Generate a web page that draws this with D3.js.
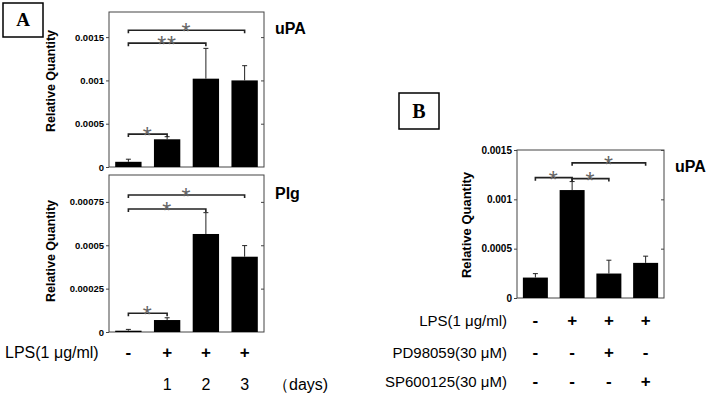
<!DOCTYPE html>
<html>
<head>
<meta charset="utf-8">
<script src="https://cdn.jsdelivr.net/npm/d3@7"></script>
<style>
  body { margin: 0; background: #fff; }
  svg { display: block; }
</style>
</head>
<body>
<div id="chart"></div>
<script>
// panel A, uPA (days 0..3)
const upaA = [0.00006, 0.00032, 0.00102, 0.001];
const upaAErr = [0.00003, 0.00003, 0.00035, 0.00017];
const upaASig = [
  { from: 0, to: 1, y: 0.00038, label: "*" },
  { from: 0, to: 2, y: 0.00143, label: "**" },
  { from: 0, to: 3, y: 0.00158, label: "*" },
];
const upaATicks = [0, 0.0005, 0.001, 0.0015];

// panel A, Plg
const plgA = [0.0000075, 0.000069, 0.000565, 0.000434];
const plgAErr = [0.0000075, 0.000013, 0.000123, 0.000064];
const plgASig = [
  { from: 0, to: 1, y: 0.000108, label: "*" },
  { from: 0, to: 2, y: 0.000709, label: "*" },
  { from: 0, to: 3, y: 0.00079, label: "*" },
];
const plgATicks = [0, 0.00025, 0.0005, 0.00075];
const lpsA = ["-", "+", "+", "+"];
const daysA = ["", "1", "2", "3"];

// panel B, uPA with inhibitors
const upaB = [0.000207, 0.001094, 0.000248, 0.000356];
const upaBErr = [0.00004, 0.000086, 0.000135, 0.000068];
const upaBSig = [
  { from: 0, to: 1, y: 0.00122, label: "*" },
  { from: 1, to: 2, y: 0.00121, label: "*" },
  { from: 1, to: 3, y: 0.00137, label: "*" },
];
const upaBTicks = [0, 0.0005, 0.001, 0.0015];
const rowsB = [
  { name: "LPS(1 \u03bcg/ml)", signs: ["-", "+", "+", "+"] },
  { name: "PD98059(30 \u03bcM)", signs: ["-", "-", "+", "-"] },
  { name: "SP600125(30 \u03bcM)", signs: ["-", "-", "-", "+"] },
];

const width = 710;
const height = 396;
const sans = "'Liberation Sans', Arial, sans-serif";
const serif = "'Liberation Serif', 'Times New Roman', serif";

const svg = d3.select("#chart").append("svg")
  .attr("width", width)
  .attr("height", height);

function barPanel(o) {
  const x = d3.scaleBand()
    .domain(d3.range(o.values.length))
    .range([o.left, o.right])
    .paddingInner(0.32)
    .paddingOuter(0.16);
  const y = d3.scaleLinear().domain(o.domain).range([o.bottom, o.top]);
  const g = svg.append("g");
  const cx = (i) => x(i) + x.bandwidth() / 2;

  /* frame */
  g.append("rect")
    .attr("x", o.left).attr("y", o.top)
    .attr("width", o.right - o.left).attr("height", o.bottom - o.top)
    .attr("fill", "none").attr("stroke", "#444").attr("stroke-width", 1);

  /* left axis */
  g.append("g")
    .attr("transform", `translate(${o.left},0)`)
    .call(d3.axisLeft(y).tickValues(o.ticks).tickSize(3).tickPadding(2)
      .tickFormat((d) => (d === 0 ? "0" : String(+d.toPrecision(6)))))
    .call((a) => a.select(".domain").remove())
    .call((a) => a.selectAll("line").attr("stroke", "#444"))
    .call((a) => a.selectAll("text")
      .attr("font-family", sans).attr("font-weight", "bold")
      .attr("font-size", o.tickFont).attr("fill", "#000"));

  /* right side inner ticks */
  g.append("g")
    .attr("transform", `translate(${o.right},0)`)
    .call(d3.axisLeft(y).tickValues(o.ticks.filter((d) => d > 0)).tickSize(3).tickFormat(""))
    .call((a) => a.select(".domain").remove())
    .call((a) => a.selectAll("line").attr("stroke", "#444"));

  /* bars */
  g.selectAll(".bar")
    .data(o.values)
    .join("rect")
    .attr("class", "bar")
    .attr("x", (d, i) => x(i))
    .attr("y", (d) => y(d))
    .attr("width", x.bandwidth())
    .attr("height", (d) => y(0) - y(d))
    .attr("fill", "#000");

  /* error bars (upper only) */
  const eb = g.selectAll(".err")
    .data(o.values.map((v, i) => ({ i, v, e: o.errors[i] })))
    .join("g")
    .attr("class", "err")
    .attr("stroke", "#222")
    .attr("stroke-width", 1);
  eb.append("line")
    .attr("x1", (d) => cx(d.i)).attr("x2", (d) => cx(d.i))
    .attr("y1", (d) => y(d.v)).attr("y2", (d) => y(d.v + d.e));
  eb.append("line")
    .attr("x1", (d) => cx(d.i) - 2.5).attr("x2", (d) => cx(d.i) + 2.5)
    .attr("y1", (d) => y(d.v + d.e)).attr("y2", (d) => y(d.v + d.e));

  /* significance brackets */
  const sg = g.selectAll(".sig")
    .data(o.sig)
    .join("g")
    .attr("class", "sig");
  sg.append("path")
    .attr("d", (d) => {
      const x1 = cx(d.from), x2 = cx(d.to), yy = y(d.y);
      return `M${x1},${yy + 3}V${yy}H${x2}V${yy + 3}`;
    })
    .attr("fill", "none").attr("stroke", "#222").attr("stroke-width", 1.6);
  sg.append("text")
    .attr("x", (d) => (cx(d.from) + cx(d.to)) / 2)
    .attr("y", (d) => y(d.y) + 10)
    .attr("text-anchor", "middle")
    .attr("font-family", sans)
    .attr("font-size", 23)
    .attr("letter-spacing", 1)
    .attr("fill", "#666")
    .text((d) => d.label);

  /* y label */
  g.append("text")
    .attr("transform", `translate(${o.labelX},${o.labelY}) rotate(-90)`)
    .attr("text-anchor", "middle")
    .attr("dy", "0.35em")
    .attr("font-family", sans)
    .attr("font-weight", "bold")
    .attr("font-size", o.labelFont)
    .attr("fill", "#000")
    .text("Relative Quantity");

  /* gene name */
  g.append("text")
    .attr("x", o.right + 11)
    .attr("y", o.nameY)
    .attr("font-family", sans)
    .attr("font-weight", "bold")
    .attr("font-size", 16)
    .attr("fill", "#000")
    .text(o.name);

  return { x, y, cx };
}

function panelBox(x0, y0, w, h, letter, size) {
  svg.append("rect")
    .attr("x", x0).attr("y", y0).attr("width", w).attr("height", h)
    .attr("fill", "none").attr("stroke", "#000").attr("stroke-width", 1.5);
  svg.append("text")
    .attr("x", x0 + w / 2).attr("y", y0 + h / 2 + size * 0.34)
    .attr("text-anchor", "middle")
    .attr("font-family", serif).attr("font-weight", "bold")
    .attr("font-size", size)
    .text(letter);
}

/* Panel A */
panelBox(3, 3, 40, 34, "A", 19);

const pa1 = barPanel({
  values: upaA, errors: upaAErr, sig: upaASig, ticks: upaATicks,
  domain: [0, 0.00179], left: 109, right: 264, top: 12, bottom: 167,
  tickFont: 9.5, labelX: 51, labelY: 81, labelFont: 12.5, name: "uPA", nameY: 34,
});

const pa2 = barPanel({
  values: plgA, errors: plgAErr, sig: plgASig, ticks: plgATicks,
  domain: [0, 0.000905], left: 109, right: 264, top: 175, bottom: 332,
  tickFont: 9.5, labelX: 51, labelY: 251, labelFont: 12.5, name: "Plg", nameY: 199,
});

svg.append("text")
  .attr("x", 5).attr("y", 358)
  .attr("font-family", sans).attr("font-size", 16).attr("fill", "#000")
  .text("LPS(1 \u03bcg/ml)");

svg.selectAll(".signA")
  .data(lpsA)
  .join("text")
  .attr("class", "signA")
  .attr("x", (d, i) => pa2.cx(i)).attr("y", 358)
  .attr("text-anchor", "middle")
  .attr("font-family", sans).attr("font-weight", "bold").attr("font-size", 17)
  .attr("fill", "#000")
  .text((d) => d);

svg.selectAll(".dayA")
  .data(daysA)
  .join("text")
  .attr("class", "dayA")
  .attr("x", (d, i) => pa2.cx(i)).attr("y", 390)
  .attr("text-anchor", "middle")
  .attr("font-family", sans).attr("font-size", 16).attr("fill", "#000")
  .text((d) => d);

svg.append("text")
  .attr("x", 273).attr("y", 390)
  .attr("font-family", sans).attr("font-size", 16).attr("fill", "#000")
  .text("\uff08days)");

/* Panel B */
panelBox(399, 93, 40, 36, "B", 20);

const pb = barPanel({
  values: upaB, errors: upaBErr, sig: upaBSig, ticks: upaBTicks,
  domain: [0, 0.0015], left: 517, right: 664, top: 150, bottom: 298,
  tickFont: 10, labelX: 466, labelY: 225, labelFont: 13, name: "uPA", nameY: 172,
});

const rowY = [326, 358, 387];
rowsB.forEach((row, r) => {
  svg.append("text")
    .attr("x", 507).attr("y", rowY[r])
    .attr("text-anchor", "end")
    .attr("font-family", sans).attr("font-size", 15).attr("fill", "#000")
    .text(row.name);
  svg.selectAll(".signB" + r)
    .data(row.signs)
    .join("text")
    .attr("class", "signB" + r)
    .attr("x", (d, i) => pb.cx(i)).attr("y", rowY[r])
    .attr("text-anchor", "middle")
    .attr("font-family", sans).attr("font-weight", "bold").attr("font-size", 17)
    .attr("fill", "#000")
    .text((d) => d);
});
</script>
</body>
</html>
